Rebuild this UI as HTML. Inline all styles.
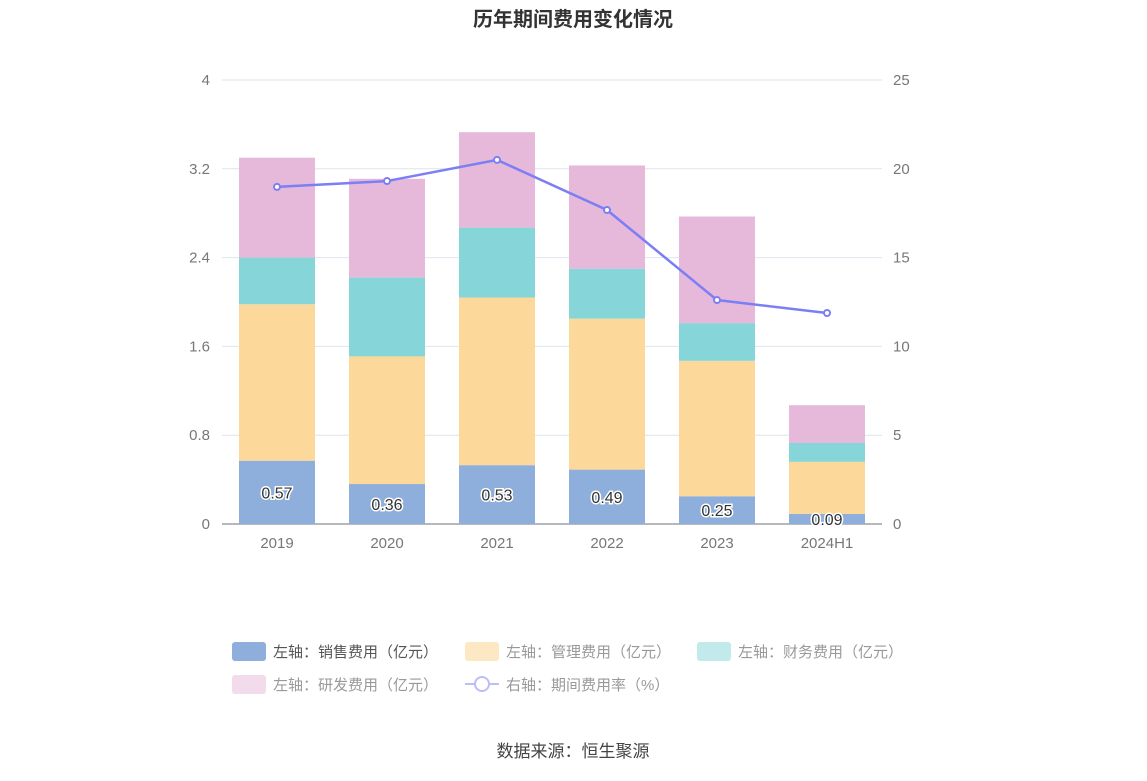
<!DOCTYPE html>
<html><head><meta charset="utf-8">
<style>
body{margin:0;background:#fff;width:1147px;height:776px;overflow:hidden;font-family:"Liberation Sans","Noto Sans CJK SC",sans-serif;}
svg text{font-family:"Liberation Sans","Noto Sans CJK SC",sans-serif;}
</style></head>
<body>
<svg id="chart" width="1147" height="776">
<text x="573" y="26" text-anchor="middle" font-size="20" font-weight="bold" fill="#333">历年期间费用变化情况</text>
<g id="grid"></g><g id="bars"></g><g id="line"></g>
<g id="legend" font-size="15" fill="#666">
<g><rect x="232" y="642" width="34" height="19" rx="3" fill="#8eaedb"/><text x="273" y="657" fill="#555">左轴：销售费用（亿元）</text></g>
<g><rect x="465" y="642" width="34" height="19" rx="3" fill="#fde8c4"/><text x="506" y="657" fill="#999">左轴：管理费用（亿元）</text></g>
<g><rect x="697" y="642" width="34" height="19" rx="3" fill="#c2eaec"/><text x="738" y="657" fill="#999">左轴：财务费用（亿元）</text></g>
<g><rect x="232" y="675" width="34" height="19" rx="3" fill="#f2dcec"/><text x="273" y="690" fill="#999">左轴：研发费用（亿元）</text></g>
<g><line x1="465" y1="684" x2="499" y2="684" stroke="#bcbdf9" stroke-width="2"/><circle cx="482" cy="684" r="7" fill="#fff" stroke="#bcbdf9" stroke-width="2"/><text x="506" y="690" fill="#999">右轴：期间费用率（%）</text></g>
</g>
<text x="573" y="757" text-anchor="middle" font-size="17" fill="#444">数据来源：恒生聚源</text>
</svg>
<script>
const categories=["2019","2020","2021","2022","2023","2024H1"];
const sales=[0.57,0.36,0.53,0.49,0.25,0.09];
const admin=[1.41,1.15,1.51,1.36,1.22,0.47];
const finance=[0.42,0.71,0.63,0.45,0.34,0.17];
const rd=[0.90,0.89,0.86,0.93,0.96,0.34];
const rate=[18.98,19.31,20.5,17.68,12.61,11.88];
const leftTicks=["0","0.8","1.6","2.4","3.2","4"];
const rightTicks=["0","5","10","15","20","25"];
const NS="http://www.w3.org/2000/svg";
const x0=222,x1=882,y0=524,y1=80;
const yL=v=>y0-(v/4)*(y0-y1);
const yR=v=>y0-(v/25)*(y0-y1);
const band=(x1-x0)/categories.length;
const xc=i=>x0+band*(i+0.5);
function mk(tag,attrs,parent){const e=document.createElementNS(NS,tag);for(const k in attrs)e.setAttribute(k,attrs[k]);document.getElementById(parent).appendChild(e);return e;}
leftTicks.forEach((t,i)=>{
 const y=yL(parseFloat(t));
 if(i>0){const g=mk("line",{x1:x0,x2:x1,y1:y,y2:y,stroke:"#e0e3ee"},"grid");
 
 }
 const tx=mk("text",{x:210,y:y+5,"text-anchor":"end","font-size":15,fill:"#777"},"grid");tx.textContent=t;
 
 
});
rightTicks.forEach(t=>{
 const tx=mk("text",{x:893,y:yR(parseFloat(t))+5,"font-size":15,fill:"#777"},"grid");tx.textContent=t;
 
 
});
const ax=mk("line",{x1:x0,x2:x1,y1:y0,y2:y0,stroke:"#6e7079"},"grid");


const series=[[sales,"#8eaedb","sales"],[admin,"#fdd89b","admin"],[finance,"#86d5d9","finance"],[rd,"#e6b9da","rd"]];
categories.forEach((c,i)=>{
 let cum=0;const bw=76;
 series.forEach(([arr,col,nm])=>{
  const v=arr[i];const r=mk("rect",{x:xc(i)-bw/2,y:yL(cum+v),width:bw,height:yL(cum)-yL(cum+v),fill:col},"bars");
  
  
  cum+=v;
 });
 const lb=mk("text",{x:xc(i),y:(yL(0)+yL(sales[i]))/2+6,"text-anchor":"middle","font-size":16,fill:"#333",stroke:"#fff","stroke-width":3,"paint-order":"stroke"},"bars");
 lb.textContent=sales[i].toFixed(2);
 
 
 const xl=mk("text",{x:xc(i),y:548,"text-anchor":"middle","font-size":15,fill:"#777"},"bars");xl.textContent=c;
 
 
});
const pl=mk("polyline",{points:rate.map((v,i)=>xc(i)+","+yR(v)).join(" "),fill:"none",stroke:"#7b7ef5","stroke-width":2.5},"line");


rate.forEach((v,i)=>{
 const p=mk("circle",{cx:xc(i),cy:yR(v),r:3,fill:"#fff",stroke:"#7b7ef5","stroke-width":2},"line");
 
 
});
</script>
</body></html>
